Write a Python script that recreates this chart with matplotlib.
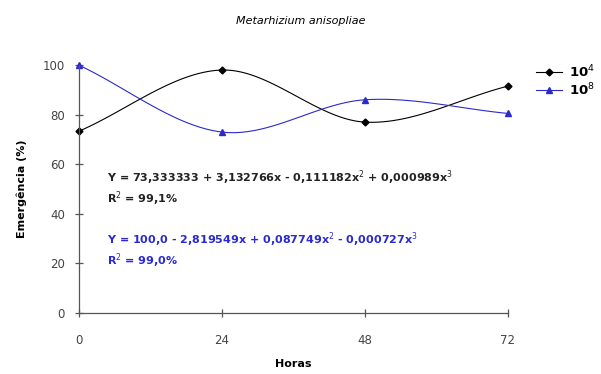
import numpy as np
import matplotlib
matplotlib.use("Agg")
import matplotlib.pyplot as plt

# data
horas = [0, 24, 48, 72]
emerg_1e4 = [73.3, 98.0, 77.0, 91.5]
emerg_1e8 = [100.0, 73.0, 86.0, 80.5]
xticks = [0, 24, 48, 72]
yticks = [0, 20, 40, 60, 80, 100]


def smooth(x, y, n=40):
    # catmull-rom curve through the points, like the excel smoothed line
    x = np.asarray(x, float)
    y = np.asarray(y, float)
    px = np.concatenate([[2 * x[0] - x[1]], x, [2 * x[-1] - x[-2]]])
    py = np.concatenate([[2 * y[0] - y[1]], y, [2 * y[-1] - y[-2]]])
    xs, ys = [], []
    t = np.linspace(0, 1, n)
    for i in range(1, len(px) - 2):
        for p, out in ((px, xs), (py, ys)):
            p0, p1, p2, p3 = p[i - 1], p[i], p[i + 1], p[i + 2]
            out.extend(0.5 * ((2 * p1) + (-p0 + p2) * t
                              + (2 * p0 - 5 * p1 + 4 * p2 - p3) * t ** 2
                              + (-p0 + 3 * p1 - 3 * p2 + p3) * t ** 3))
    return xs, ys


fig = plt.figure(figsize=(6.01, 3.74), dpi=100)
ax = fig.add_axes([0.131, 0.163, 0.714, 0.663])

blue = "#2a2ad0"
sx, sy = smooth(horas, emerg_1e4)
ax.plot(sx, sy, color="black", lw=0.8, clip_on=False)
ax.plot(horas, emerg_1e4, ls="none", marker="D", ms=3.5, color="black", clip_on=False)
sx, sy = smooth(horas, emerg_1e8)
ax.plot(sx, sy, color=blue, lw=0.8, clip_on=False)
ax.plot(horas, emerg_1e8, ls="none", marker="^", ms=5, color=blue, clip_on=False)

ax.set_xlim(0, 72)
ax.set_ylim(0, 100)
ax.set_xticks(xticks)
ax.set_yticks(yticks)
for s in ["top", "right"]:
    ax.spines[s].set_visible(False)
for s in ["left", "bottom"]:
    ax.spines[s].set_color("#555555")
    ax.spines[s].set_linewidth(0.9)
ax.tick_params(direction="inout", length=6, width=0.9, color="#555555",
               labelsize=8.5, labelcolor="#444444")
ax.tick_params(axis="x", pad=12)
ax.tick_params(axis="y", pad=7)

ax.set_xlabel("Horas", fontsize=8, fontweight="bold", labelpad=9)
ax.set_ylabel("Emergência (%)", fontsize=8, fontweight="bold", labelpad=11)
fig.text(0.5, 0.945, "Metarhizium anisopliae", ha="center", va="center",
         fontsize=8, style="italic")

# regression equations
eq_kw = dict(fontsize=8, fontweight="bold", va="center")
ax.text(4.7, 54.5, "Y = 73,333333 + 3,132766x - 0,111182x$^2$ + 0,000989x$^3$",
        color="#222222", **eq_kw)
ax.text(4.7, 46.0, "R$^2$ = 99,1%", color="#222222", **eq_kw)
ax.text(4.7, 29.5, "Y = 100,0 - 2,819549x + 0,087749x$^2$ - 0,000727x$^3$",
        color=blue, **eq_kw)
ax.text(4.7, 21.0, "R$^2$ = 99,0%", color=blue, **eq_kw)

# legend on the right
fig.legend([ax.lines[0], ax.lines[2]], ["10$^4$", "10$^8$"],
           loc="upper left", bbox_to_anchor=(0.876, 0.855), frameon=False,
           prop={"size": 9.5, "weight": "bold"}, handlelength=2.0,
           handletextpad=0.5, labelspacing=0.1, borderpad=0.2)
# put markers on legend handles
leg = fig.legends[0]
for h, m, c in zip(leg.legend_handles, ["D", "^"], ["black", blue]):
    h.set_marker(m)
    h.set_markersize(3.5 if m == "D" else 5)
    h.set_markerfacecolor(c)
    h.set_markeredgecolor(c)

fig.savefig("out.png", dpi=100)
